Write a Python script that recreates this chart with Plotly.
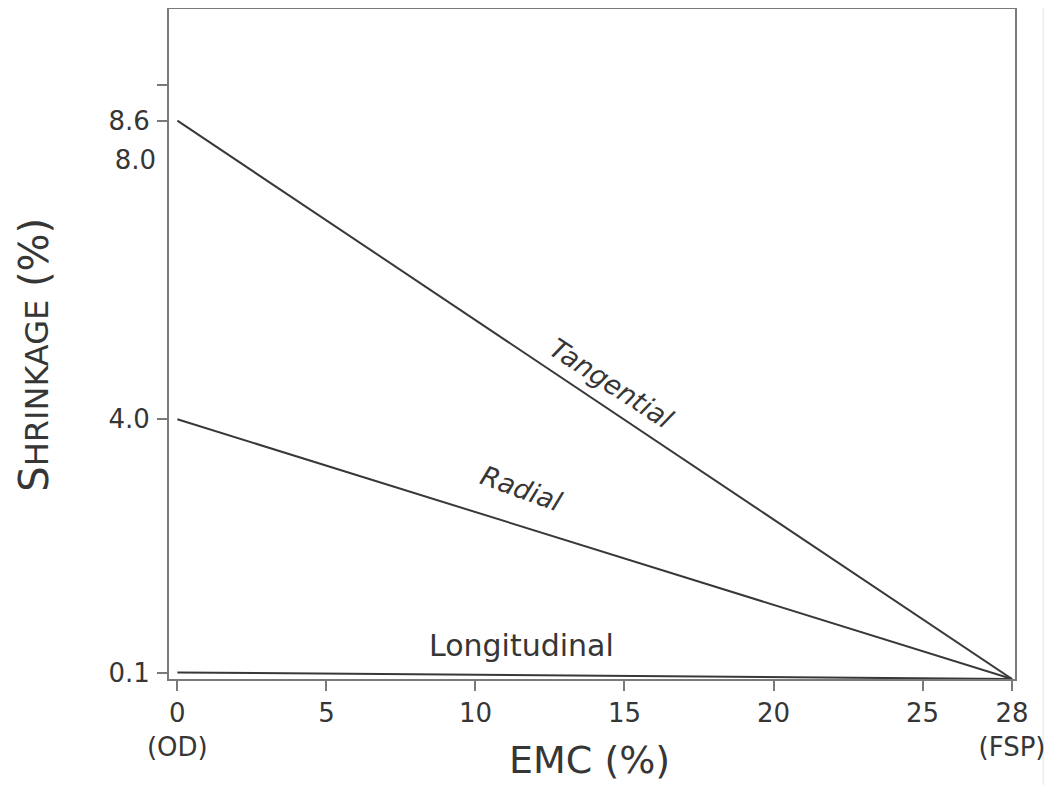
import plotly.graph_objects as go

# Data
emc = [0, 28]                 # EMC (%) from oven-dry (OD) to fibre saturation point (FSP)
tangential = [8.6, 0.0]
radial = [4.0, 0.0]
longitudinal = [0.1, 0.0]

x_tickvals = [0, 5, 10, 15, 20, 25, 28]
x_ticktext = ["0<br>(OD)", "5", "10", "15", "20", "25", "28<br>(FSP)"]
y_tickvals = [9.15, 8.6, 4.0, 0.1]
y_ticktext = ["", "8.6", "4.0", "0.1"]
y2_tickvals = [8.0]
y2_ticktext = ["8.0"]

FONT = "DejaVu Sans"
TXT = "#363636"
LINE = "#383838"
AX = "#7a7a7a"

fig = go.Figure()
for name, vals in [("Tangential", tangential), ("Radial", radial), ("Longitudinal", longitudinal)]:
    fig.add_trace(go.Scatter(x=emc, y=vals, mode="lines", name=name,
                             line=dict(color=LINE, width=2), showlegend=False,
                             hoverinfo="skip"))

# invisible trace on overlaying axis carrying the extra "8.0" label
fig.add_trace(go.Scatter(x=emc, y=tangential, yaxis="y2", mode="lines",
                         line=dict(width=0), showlegend=False, hoverinfo="skip"))

xr = [-0.28, 28.1]
yr = [0, 10.32]

fig.update_layout(
    width=1044, height=777,
    margin=dict(l=160.5, r=36.5, t=1, b=106, autoexpand=False),
    paper_bgcolor="white", plot_bgcolor="white",
    font=dict(family=FONT, color=TXT, size=26),
    xaxis=dict(range=xr, tickvals=x_tickvals, ticktext=x_ticktext, automargin=False,
               showgrid=False, zeroline=False, showline=True, mirror=True,
               linecolor=AX, linewidth=2, ticks="outside", ticklen=10,
               tickcolor=AX, tickwidth=1.5, tickfont=dict(size=26, color=TXT)),
    yaxis=dict(range=yr, tickvals=y_tickvals, ticktext=y_ticktext, automargin=False,
               showgrid=False, zeroline=False, showline=True, mirror=True,
               linecolor=AX, linewidth=2, ticks="outside", ticklen=10,
               tickcolor=AX, tickwidth=1.5, tickfont=dict(size=26, color=TXT),
               ticklabelstandoff=2),
    yaxis2=dict(range=yr, overlaying="y", side="left", tickvals=y2_tickvals,
                ticktext=y2_ticktext, ticks="", showgrid=False, zeroline=False,
                showline=False, automargin=False, tickfont=dict(size=26, color=TXT),
                ticklabelstandoff=12),
    shapes=[dict(type="rect", xref="paper", yref="paper", x0=1.0325, x1=1.2,
                 y0=-0.3, y1=1.1, fillcolor="#eeeeee", line=dict(width=0), layer="below")],
)

# axis titles
fig.add_annotation(xref="paper", yref="paper", x=0.4965, y=-0.1209, text="EMC (%)",
                   xanchor="center", yanchor="middle",
                   showarrow=False, font=dict(size=38, color=TXT))
fig.add_annotation(xref="paper", yref="paper", x=-0.160, y=0.4836, textangle=-90,
                   xanchor="center", yanchor="middle",
                   text="S<span style='font-size:32px'>HRINKAGE</span> (%)",
                   showarrow=False, font=dict(size=40, color=TXT))

# line labels
fig.add_annotation(x=14.56, y=4.55, text="<i>Tangential</i>", showarrow=False,
                   textangle=33, font=dict(size=27, color=TXT))
fig.add_annotation(x=11.53, y=2.93, text="<i>Radial</i>", showarrow=False,
                   textangle=20, font=dict(size=27, color=TXT))
fig.add_annotation(x=11.56, y=0.52, text="Longitudinal", showarrow=False,
                   font=dict(size=30, color=TXT))

fig.write_html("out.html")
